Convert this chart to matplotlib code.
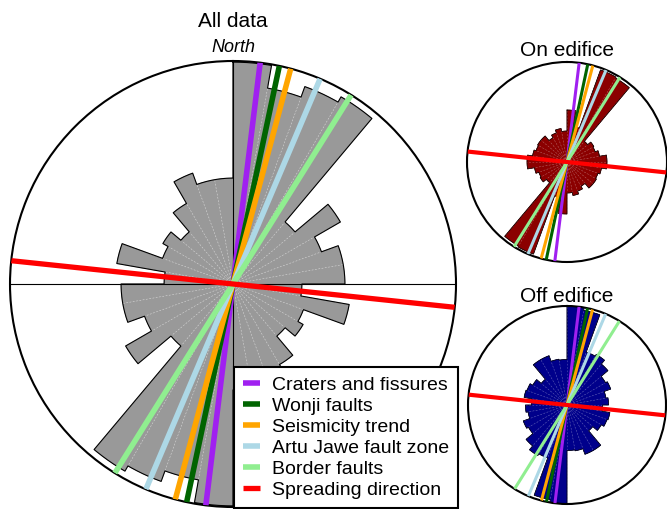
import numpy as np
import matplotlib
matplotlib.use("Agg")
import matplotlib.pyplot as plt

plt.rcParams["font.family"] = ["Liberation Sans", "DejaVu Sans"]

W, H = 667, 509

# 10-degree bins from 0 to 180 (clockwise from north); axial data, so
# every bin is repeated at +180 degrees.  Radii as a fraction of the rim.
bin_start_deg = np.arange(0, 180, 10)

all_data = [0.995, 0.892, 0.942, 0.969, 0.363, 0.556, 0.422, 0.502, 0.502,
            0.309, 0.529, 0.336, 0.363, 0.305, 0.417, 0.529, 0.475, 0.475]
on_edifice = [0.52, 0.36, 0.98, 0.97, 0.27, 0.31, 0.30, 0.33, 0.40,
              0.40, 0.35, 0.33, 0.34, 0.34, 0.28, 0.31, 0.34, 0.31]
off_edifice = [1.00, 0.97, 0.57, 0.59, 0.54, 0.45, 0.47, 0.40, 0.42,
               0.36, 0.44, 0.43, 0.40, 0.34, 0.53, 0.53, 0.47, 0.46]

trend_names = ["Craters and fissures", "Wonji faults", "Seismicity trend",
               "Artu Jawe fault zone", "Border faults", "Spreading direction"]
trend_deg = [7, 12, 15, 23, 32, 96]
trend_colors = ["#a020f0", "#006400", "#ffa500", "#add8e6", "#90ee90", "#ff0000"]


def rose(ax, vals, color, feat_lw, red_lw, edge_lw, grid_alpha, cross=False):
    vals = np.asarray(vals)
    r = np.concatenate([vals, vals])
    starts = np.deg2rad(np.concatenate([bin_start_deg, bin_start_deg + 180]))
    width = np.deg2rad(10)
    ax.set_theta_zero_location("N")
    ax.set_theta_direction(-1)
    ax.bar(starts, r, width=width, align="edge", color=color,
           edgecolor=color, linewidth=0.4, zorder=1)
    # black outline along the outer edge of the bars
    th, rr = [], []
    for t0, v in zip(starts, r):
        arc = np.linspace(t0, t0 + width, 12)
        th.extend(arc)
        rr.extend([v] * len(arc))
    th.append(th[0]); rr.append(rr[0])
    ax.plot(th, rr, color="black", lw=edge_lw, zorder=1.7)

    ax.set_ylim(0, 1)
    ax.set_yticks([])
    ax.set_xticks(np.deg2rad(np.arange(0, 360, 10)))
    ax.set_xticklabels([])
    ax.xaxis.grid(True, color="white", linestyle=(0, (3, 3)), linewidth=0.4,
                  alpha=grid_alpha)
    ax.spines["polar"].set_linewidth(1.5)
    if cross:
        for d in (0, 90, 180, 270):
            ax.axvline(np.deg2rad(d), color="black", lw=0.8, zorder=1.8)

    lines = []
    for deg, c in zip(trend_deg, trend_colors):
        t = np.deg2rad(deg)
        lw = red_lw if c == "#ff0000" else feat_lw
        ln, = ax.plot([t, t, t + np.pi], [1, 0, 1], color=c, lw=lw,
                      solid_capstyle="butt", zorder=3)
        lines.append(ln)
    return lines


fig = plt.figure(figsize=(W / 100, H / 100), dpi=100)

ax_all = fig.add_axes([10 / W, 2 / H, 446 / W, 446 / H], projection="polar")
handles = rose(ax_all, all_data, "#999999", 4.0, 3.8, 0.8, 0.6, cross=True)

ax_on = fig.add_axes([467 / W, 247 / H, 200 / W, 200 / H], projection="polar")
rose(ax_on, on_edifice, "#8b0000", 2.2, 3.0, 0.5, 0.35)

ax_off = fig.add_axes([468 / W, 5 / H, 198 / W, 198 / H], projection="polar")
rose(ax_off, off_edifice, "#00008b", 2.2, 3.0, 0.5, 0.35)

fig.text(233 / W, 1 - 27 / H, "All data", ha="center", va="baseline", fontsize=15)
fig.text(233 / W, 1 - 51.5 / H, "North", ha="center", va="baseline",
         fontsize=13, style="italic")
fig.text(567 / W, 1 - 56.5 / H, "On edifice", ha="center", va="baseline", fontsize=15)
fig.text(567 / W, 1 - 301.5 / H, "Off edifice", ha="center", va="baseline", fontsize=15)

leg = fig.legend(handles, trend_names, loc="lower right",
                 bbox_to_anchor=(458 / W, 1 / H), bbox_transform=fig.transFigure,
                 fontsize=14, frameon=True, fancybox=False, edgecolor="black",
                 framealpha=1, handlelength=0.9, handletextpad=0.6,
                 labelspacing=0.18, borderpad=0.45, borderaxespad=0)
leg.get_frame().set_linewidth(1.5)

fig.savefig("out.png", dpi=100, facecolor="white")
